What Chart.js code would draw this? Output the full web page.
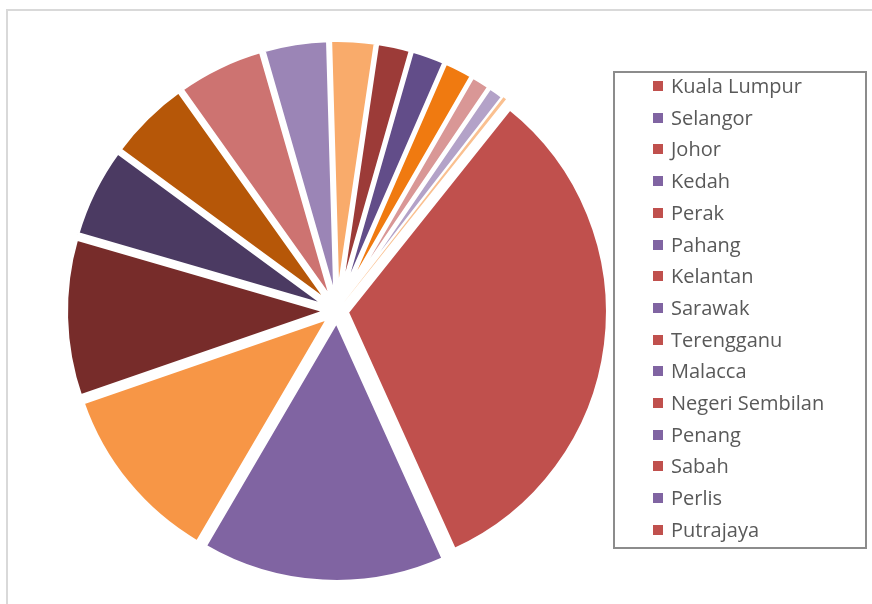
<!DOCTYPE html>
<html>
<head>
<meta charset="utf-8">
<script src="https://cdn.jsdelivr.net/npm/chart.js@4"></script>
<style>
  body { margin: 0; background: #fff; font-family: "Open Sans", sans-serif; }
  #wrap { position: relative; width: 872px; height: 604px; overflow: hidden; }
  #frame { position: absolute; left: 6px; top: 9px; width: 900px; height: 700px; border: 2px solid #d9d9d9; }
  #pie { position: absolute; left: 0; top: 0; }
  #legend { position: absolute; left: 613px; top: 71px; width: 250px; height: 474px; border: 2px solid #8c8c8c; }
  .item { position: absolute; left: 38px; height: 24px; line-height: 24px; font-size: 20px; color: #595959; white-space: nowrap; }
  .item span { display: inline-block; width: 10px; height: 10px; margin-right: 8px; vertical-align: 2px; }
</style>
</head>
<body>
<div id="wrap">
  <div id="frame"></div>
  <canvas id="pie" width="872" height="604"></canvas>
  <div id="legend"></div>
</div>
<script>
// Data
const states = ['Kuala Lumpur', 'Selangor', 'Johor', 'Kedah', 'Perak', 'Pahang', 'Kelantan', 'Sarawak',
    'Terengganu', 'Malacca', 'Negeri Sembilan', 'Penang', 'Sabah', 'Perlis', 'Putrajaya'];
const shares = [32.6, 15.2, 11.3, 9.8, 5.6, 5.1, 5.4, 4.0, 2.8, 2.1, 2.1, 1.8, 1.2, 1.0, 0.2];
const sliceColors = ['#C0504D', '#8064A2', '#F79646', '#772C2A', '#4B3A62', '#B65708', '#CD7371', '#9B85B6',
    '#F9AB6B', '#9C3B38', '#624D89', '#F07A10', '#D99796', '#B3A2C8', '#FAC090'];
const legendColors = ['#C0504D', '#8064A2'];

const explodeDistance = 10; // uitgetrokken taartpunten (px)

// Legende (rechts, met kader)
const legend = document.getElementById('legend');
states.forEach((name, i) => {
    const row = document.createElement('div');
    row.className = 'item';
    row.style.top = (1 + i * 31.7) + 'px';
    row.innerHTML = '<span style="background:' + legendColors[i % 2] + '"></span>' + name;
    legend.appendChild(row);
});

// Elke punt een stukje naar buiten langs de bissectrice schuiven
const explodePlugin = {
    id: 'explode',
    afterDatasetUpdate(chart, args) {
        args.meta.data.forEach(arc => {
            const mid = (arc.startAngle + arc.endAngle) / 2;
            arc.x += Math.cos(mid) * explodeDistance;
            arc.y += Math.sin(mid) * explodeDistance;
        });
    }
};

new Chart(document.getElementById('pie'), {
    type: 'pie',
    data: {
        labels: states,
        datasets: [{
            data: shares,
            backgroundColor: sliceColors,
            borderColor: '#ffffff',
            borderWidth: shares.map((v, i) => i === shares.length - 1 ? 0 : 4)
        }]
    },
    options: {
        responsive: false,
        animation: false,
        rotation: 38.6,
        radius: 261,
        layout: { padding: { left: 57, right: 255, top: 31, bottom: 13 } },
        plugins: { legend: { display: false }, tooltip: { enabled: false } }
    },
    plugins: [explodePlugin]
});
</script>
</body>
</html>
